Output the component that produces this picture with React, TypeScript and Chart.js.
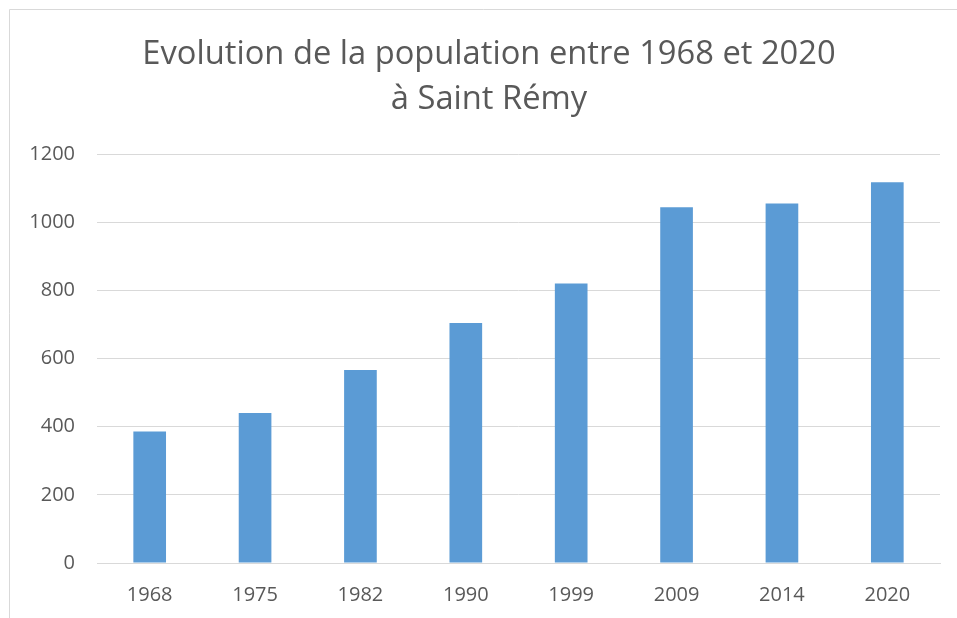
import React, { useEffect, useRef } from "react";
import { Chart, registerables } from "chart.js";

Chart.register(...registerables);

const titleLines = ["Evolution de la population entre 1968 et 2020", "à Saint Rémy"];
const years = ["1968", "1975", "1982", "1990", "1999", "2009", "2014", "2020"];
const population = [386, 440, 566, 704, 820, 1044, 1055, 1117];

const TEXT = "#595959";
const FONT = "'Open Sans', 'DejaVu Sans', sans-serif";

const framePlugin = {
  id: "frame",
  beforeDraw(chart: any) {
    const ctx = chart.ctx;
    ctx.save();
    ctx.fillStyle = "#ffffff";
    ctx.fillRect(0, 0, chart.width, chart.height);
    ctx.strokeStyle = "#d9d9d9";
    ctx.lineWidth = 1;
    ctx.beginPath();
    ctx.moveTo(9.5, chart.height);
    ctx.lineTo(9.5, 9.5);
    ctx.lineTo(chart.width, 9.5);
    ctx.stroke();
    ctx.restore();
  },
  afterDraw(chart: any) {
    const ctx = chart.ctx;
    ctx.save();
    ctx.fillStyle = TEXT;
    ctx.font = `normal 32.7px ${FONT}`;
    ctx.textAlign = "center";
    ctx.textBaseline = "middle";
    titleLines.forEach((line, i) => {
      ctx.fillText(line, 489, 55 + i * 45);
    });
    ctx.restore();
  },
};

export default function App() {
  const ref = useRef<HTMLCanvasElement | null>(null);
  useEffect(() => {
    document.body.style.margin = "0";
    const chart = new Chart(ref.current as HTMLCanvasElement, {
      type: "bar",
      data: {
        labels: years,
        datasets: [
          {
            data: population,
            backgroundColor: "#5b9bd5",
            borderWidth: 0,
            barPercentage: 0.31,
            categoryPercentage: 1,
          },
        ],
      },
      plugins: [framePlugin],
      options: {
        animation: false,
        responsive: false,
        layout: { padding: { left: 20, right: 17, top: 154, bottom: 0 } },
        plugins: {
          legend: { display: false },
          tooltip: { enabled: false },
          title: { display: false },
        },
        scales: {
          x: {
            grid: { display: false, drawTicks: false },
            border: { display: true, color: "#d9d9d9", width: 1 },
            ticks: { color: TEXT, font: { family: FONT, size: 20 }, padding: 20 },
            afterFit(scale: any) {
              scale.height = 55;
            },
          },
          y: {
            min: 0,
            max: 1200,
            ticks: {
              stepSize: 200,
              color: TEXT,
              font: { family: FONT, size: 20 },
              padding: 22,
              callback: (v: any) => String(v),
            },
            grid: { color: "#d9d9d9", lineWidth: 1, drawTicks: false },
            border: { display: false },
            afterFit(scale: any) {
              scale.width = 77;
            },
          },
        },
      },
    });
    return () => chart.destroy();
  }, []);
  return <canvas ref={ref} width={957} height={618} style={{ display: "block" }} />;
}
